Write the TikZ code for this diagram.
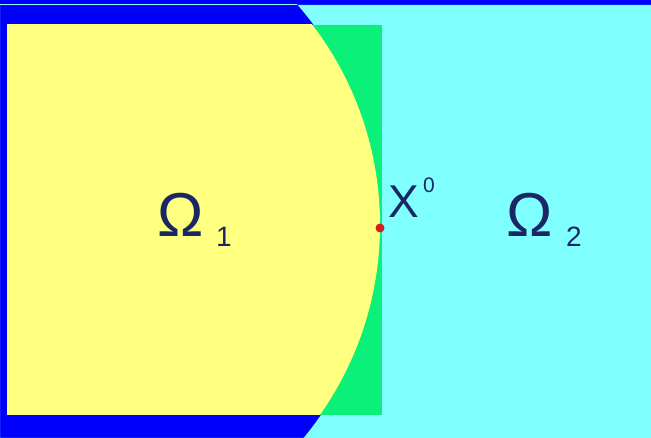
\documentclass[tikz,border=0pt]{standalone}
\usepackage{fontspec}
\setmainfont{Liberation Sans}
\definecolor{bgblue}{RGB}{0,0,250}
\definecolor{ylw}{RGB}{255,255,128}
\definecolor{cyn}{RGB}{128,255,255}
\definecolor{grn}{RGB}{10,240,120}
\definecolor{txt}{RGB}{25,40,100}
\definecolor{dotred}{RGB}{210,30,30}
\tikzset{lbl/.style={text=txt,inner sep=0pt,anchor=base west}}
\begin{document}
\begin{tikzpicture}[x=1pt,y=1pt]
\useasboundingbox (0,0) rectangle (651,438);
\fill[bgblue] (0,0) rectangle (651,438);
% cyan region: outside the circle, below the top band
\begin{scope}
\clip (0,0) rectangle (651,433);
\fill[cyn, even odd rule] (0,0) rectangle (651,433) (45,213) circle (335);
\end{scope}
% rectangle: green outside the circle, yellow inside
\fill[grn] (7,23) rectangle (382,413);
\begin{scope}
\clip (7,23) rectangle (382,413);
\fill[ylw] (50,213) circle (330);
\end{scope}
\fill[dotred] (380,210) circle (4.5) coordinate (x0);
\node[lbl,font=\fontsize{62}{62}\selectfont] (o1) at (157,201) {Ω};
\node[lbl,font=\fontsize{28}{28}\selectfont] (s1) at (216,191) {1};
\node[lbl,font=\fontsize{62}{62}\selectfont] (o2) at (506,201) {Ω};
\node[lbl,font=\fontsize{28}{28}\selectfont] (s2) at (566,191) {2};
\node[lbl,font=\fontsize{46}{46}\selectfont] (xx) at (388,220) {X};
\node[lbl,font=\fontsize{21}{21}\selectfont] (sup) at (423,245) {0};
\end{tikzpicture}
\end{document}
